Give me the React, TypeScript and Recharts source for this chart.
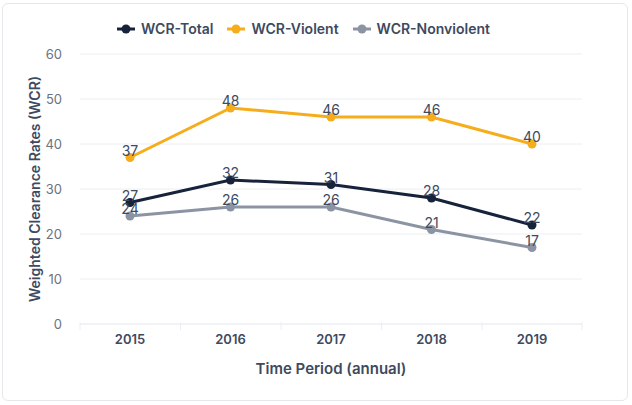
import { LineChart, Line, XAxis, YAxis, CartesianGrid, Legend } from 'recharts';

const years = ['2015', '2016', '2017', '2018', '2019'];
const wcrTotal = [27, 32, 31, 28, 22];
const wcrViolent = [37, 48, 46, 46, 40];
const wcrNonviolent = [24, 26, 26, 21, 17];
const yTicks = [0, 10, 20, 30, 40, 50, 60];

const series = [
  { key: 'total', name: 'WCR-Total', color: '#17223b' },
  { key: 'violent', name: 'WCR-Violent', color: '#f6ad1b' },
  { key: 'nonviolent', name: 'WCR-Nonviolent', color: '#8c94a3' },
];

const data = years.map((year, i) => ({
  year,
  total: wcrTotal[i],
  violent: wcrViolent[i],
  nonviolent: wcrNonviolent[i],
}));

const TEXT = '#3e4a5f';
const GRID = '#eceef2';
const HALF_BAND = 50;

// x ticks: label in the middle of each band, small tick marks on band edges
const BandTick = (props: any) => {
  const { x, y, payload, index } = props;
  const last = index === years.length - 1;
  return (
    <g>
      <line x1={x - HALF_BAND} x2={x - HALF_BAND} y1={y - 10} y2={y - 2} stroke={GRID} />
      {last && <line x1={x + HALF_BAND} x2={x + HALF_BAND} y1={y - 10} y2={y - 2} stroke={GRID} />}
      <text x={x} y={y + 12} textAnchor="middle" fill={TEXT} fontSize={13} fontWeight={600}>
        {payload.value}
      </text>
    </g>
  );
};

const LegendContent = () => (
  <div style={{ display: 'flex', justifyContent: 'center', gap: 14, fontSize: 14, fontWeight: 600, color: TEXT }}>
    {series.map((s) => (
      <div key={s.key} style={{ display: 'flex', alignItems: 'center', gap: 6 }}>
        <svg width={18} height={10}>
          <line x1={0} x2={18} y1={5} y2={5} stroke={s.color} strokeWidth={3} />
          <circle cx={9} cy={5} r={4.5} fill={s.color} />
        </svg>
        <span>{s.name}</span>
      </div>
    ))}
  </div>
);

const labelStyle = { position: 'top' as const, fill: TEXT, fontSize: 14, offset: 2 };

export default function App() {
  return (
    <div
      style={{
        position: 'absolute',
        left: 2,
        top: 3,
        width: 624,
        height: 396,
        border: '1px solid #e5e7eb',
        borderRadius: 6,
        background: '#fff',
        fontFamily: 'Inter, sans-serif',
      }}
    >
      <LineChart width={624} height={396} data={data} margin={{ top: 16, right: 45, left: 22, bottom: 22 }}>
        <CartesianGrid vertical={false} stroke={GRID} />
        <Legend verticalAlign="top" align="center" content={<LegendContent />} wrapperStyle={{ paddingBottom: 17 }} />
        <XAxis
          dataKey="year"
          padding={{ left: HALF_BAND, right: HALF_BAND }}
          axisLine={{ stroke: GRID }}
          tickLine={false}
          tick={<BandTick />}
          height={54}
          label={{ value: 'Time Period (annual)', position: 'insideBottom', offset: 4, fill: TEXT, fontSize: 15, fontWeight: 600 }}
        />
        <YAxis
          domain={[0, 60]}
          ticks={yTicks}
          axisLine={false}
          tickLine={false}
          tickMargin={12}
          width={55}
          tick={{ fill: '#6b7280', fontSize: 13 }}
          label={{
            value: 'Weighted Clearance Rates (WCR)',
            angle: -90,
            position: 'insideLeft',
            offset: 10,
            style: { textAnchor: 'middle' },
            fill: TEXT,
            fontSize: 14,
            fontWeight: 600,
          }}
        />
        {series.map((s) => (
          <Line
            key={s.key}
            name={s.name}
            dataKey={s.key}
            stroke={s.color}
            strokeWidth={3}
            dot={{ r: 4.5, fill: s.color, stroke: 'none' }}
            label={labelStyle}
            isAnimationActive={false}
          />
        ))}
      </LineChart>
    </div>
  );
}
